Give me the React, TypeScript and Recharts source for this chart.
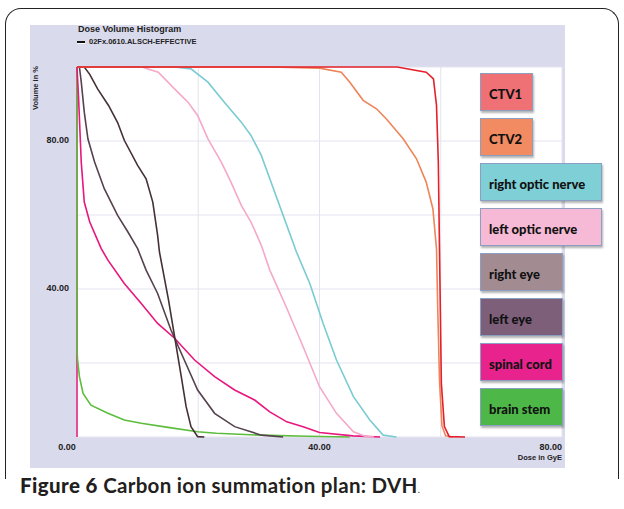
import { LineChart, Line, XAxis, YAxis, CartesianGrid, ReferenceLine } from "recharts";

// DVH curves, [dose in GyE, volume in %]
const ctv1 = [[0, 100], [52.8, 100], [57.6, 98.6], [58.8, 96.8], [59.3, 89.6], [59.6, 74.3], [59.8, 50], [60.1, 14.5], [60.6, 2.8], [61.4, 0.1], [64, 0]];
const ctv2 = [[0, 100], [31.8, 100], [40, 99.7], [43.6, 98.6], [45, 95.9], [47.2, 91], [49.4, 88.7], [51, 86], [53.8, 80.6], [56, 75.2], [57.6, 68.9], [58.7, 61.7], [59.3, 50.9], [59.5, 35], [59.8, 15], [60.2, 3], [60.8, 0.3], [62, 0]];
const rightOpticNerve = [[0, 100], [16.1, 100], [18.8, 99.5], [21.6, 95.9], [24.3, 90.5], [27.1, 85.1], [28.7, 81.5], [30.4, 76.1], [32, 68.9], [34, 59.9], [36.2, 50], [38.4, 41.5], [40.6, 30.7], [42.8, 20.8], [45.6, 10.9], [48.3, 4.6], [50.5, 0.5], [52.7, 0]];
const leftOpticNerve = [[0, 100], [10.7, 100], [13.4, 98.6], [16.1, 94.1], [18.3, 90.5], [19.9, 86.9], [21.6, 80.6], [23.8, 74.3], [25.4, 68.9], [27.1, 62.6], [28.7, 58.1], [30.4, 51.8], [31.8, 45.1], [34.5, 35.2], [37.3, 24.4], [40, 13.6], [42.8, 6.4], [45.6, 1.4], [47.7, 0.1], [49, 0]];
const rightEye = [[0, 100], [1.2, 100], [2.1, 98], [3.4, 94.1], [5.2, 89.6], [6.7, 85], [7.8, 80.2], [10, 73.4], [11.4, 69.8], [12.5, 63.5], [13.3, 54.5], [13.6, 50], [15.1, 37], [16.1, 27.1], [17.2, 16.3], [18, 8.2], [18.8, 2.8], [19.9, 0.1], [21, 0]];
const leftEye = [[0, 100], [0.4, 100], [0.7, 96], [1.2, 87.8], [1.8, 80.6], [2.9, 74.3], [4.5, 67.1], [6.7, 59.9], [8.4, 55.4], [10, 50.9], [11.4, 45.1], [13.3, 38.8], [15.5, 28.9], [17.7, 20.8], [19.9, 12.7], [22.7, 6.4], [26, 2.8], [30.4, 0.5], [34, 0]];
const spinalCord = [[0, 100], [0.25, 92], [0.7, 74.3], [1.2, 63.5], [2.1, 58.1], [4, 50.9], [5.1, 47.8], [7.8, 41.5], [10.6, 36.1], [13.3, 30.7], [16.1, 26.7], [19.4, 20.8], [22.7, 16.3], [26, 12.7], [29.3, 10], [31.8, 6.8], [34.6, 4.1], [37.3, 2.8], [40, 1.2], [45.5, 0.3], [50, 0]];
const brainStem = [[0, 100], [0, 23.5], [0.1, 20.8], [0.4, 16.3], [1, 11.8], [2.3, 8.6], [5.1, 6.4], [7.8, 4.6], [10.6, 3.7], [15, 2.6], [19.9, 1.4], [23, 1], [30.4, 0.5], [38, 0.2], [45, 0]];

const xTicks = [0, 20, 40, 60, 80];
const yTicks = [0, 20, 40, 60, 80, 100];
const xLabelled = [0, 40, 80];
const yLabelled = [40, 80];

// drawn bottom to top
const series = [
  { name: "brain stem", points: brainStem, line: "#5cbd3c", box: "#4db848", width: 83 },
  { name: "spinal cord", points: spinalCord, line: "#e8177f", box: "#e8238e", width: 83 },
  { name: "left eye", points: leftEye, line: "#56424f", box: "#7d5f7a", width: 83 },
  { name: "right eye", points: rightEye, line: "#453134", box: "#a38c91", width: 83 },
  { name: "left optic nerve", points: leftOpticNerve, line: "#f5a8c9", box: "#f6bad6", width: 122 },
  { name: "right optic nerve", points: rightOpticNerve, line: "#7acbd2", box: "#7ecfd6", width: 122 },
  { name: "CTV2", points: ctv2, line: "#ee8458", box: "#f28b61", width: 53 },
  { name: "CTV1", points: ctv1, line: "#e4202a", box: "#ef7075", width: 53 },
];
const legendOrder = ["CTV1", "CTV2", "right optic nerve", "left optic nerve", "right eye", "left eye", "spinal cord", "brain stem"];

const axisFont = { fontFamily: "'Liberation Sans', Arial, sans-serif", fontWeight: 700, fontSize: 9, fill: "#222" };

const XTick = ({ x, y, payload }: any) => {
  if (!xLabelled.includes(payload.value)) return null;
  let dx = 0;
  let anchor = "middle";
  if (payload.value === 0) dx = -10;
  if (payload.value === 80) anchor = "end";
  return (
    <text x={x + dx} y={y + 3} textAnchor={anchor} dominantBaseline="middle" {...axisFont}>
      {payload.value.toFixed(2)}
    </text>
  );
};

const YTick = ({ x, y, payload }: any) => {
  if (!yLabelled.includes(payload.value)) return null;
  return (
    <text x={x} y={y} textAnchor="end" dominantBaseline="middle" {...axisFont}>
      {payload.value.toFixed(2)}
    </text>
  );
};

export default function App() {
  return (
    <div style={{ position: "absolute", left: 0, top: 0, width: 624, height: 509, background: "#fff", overflow: "hidden" }}>
      <div
        style={{
          position: "absolute", left: 5, top: 8, width: 612, height: 470,
          border: "1.5px solid #222", borderBottom: "none", borderRadius: "16px 16px 0 0",
        }}
      />
      <div style={{ position: "absolute", left: 30, top: 25, width: 535, height: 443, background: "#dadaed" }} />
      <div style={{ position: "absolute", left: 78, top: 24, fontFamily: "'Liberation Sans', Arial, sans-serif", fontWeight: 700, fontSize: 9, color: "#222" }}>
        Dose Volume Histogram
      </div>
      <div style={{ position: "absolute", left: 77, top: 41, width: 8, height: 2, background: "#111", boxShadow: "0 1px 0 #fff" }} />
      <div style={{ position: "absolute", left: 89, top: 37, fontFamily: "'Liberation Sans', Arial, sans-serif", fontWeight: 700, fontSize: 7.5, color: "#222" }}>
        02Fx.0610.ALSCH-EFFECTIVE
      </div>
      <div
        style={{
          position: "absolute", left: 35, top: 88, transform: "translate(-50%, -50%) rotate(-90deg)", whiteSpace: "nowrap",
          fontFamily: "'Liberation Sans', Arial, sans-serif", fontWeight: 700, fontSize: 7.5, color: "#222",
        }}
      >
        Volume in %
      </div>
      <div style={{ position: "absolute", right: 62, top: 453, fontFamily: "'Liberation Sans', Arial, sans-serif", fontWeight: 700, fontSize: 7.5, color: "#222" }}>
        Dose in GyE
      </div>
      <div style={{ position: "absolute", left: 0, top: 0 }}>
        <LineChart width={624} height={509} margin={{ top: 67, right: 62, bottom: 42, left: 30 }}>
          <CartesianGrid stroke="#e3e3ef" fill="#fff" />
          <XAxis type="number" dataKey="x" domain={[0, 80]} ticks={xTicks} height={30} axisLine={false} tickLine={false} tick={<XTick />} interval={0} />
          <YAxis type="number" dataKey="y" domain={[0, 100]} ticks={yTicks} width={47} axisLine={false} tickLine={false} tick={<YTick />} interval={0} />
          <ReferenceLine x={0} stroke="#e8177f" strokeWidth={1.5} />
          {series.map((s) => (
            <Line
              key={s.name}
              data={s.points.map(([x, y]) => ({ x, y }))}
              dataKey="y"
              type="linear"
              stroke={s.line}
              strokeWidth={1.6}
              dot={false}
              isAnimationActive={false}
            />
          ))}
        </LineChart>
      </div>
      {legendOrder.map((name, i) => {
        const s = series.find((d) => d.name === name)!;
        return (
          <div
            key={name}
            style={{
              position: "absolute", left: 480, top: 73 + i * 45, width: s.width, height: 38, boxSizing: "border-box",
              background: s.box, border: "1px solid #8a9fc2", boxShadow: "1px 2px 2px rgba(0,0,0,0.3)",
              display: "flex", alignItems: "center", paddingLeft: 8, paddingTop: 3,
              fontFamily: "Lato, 'Open Sans', sans-serif", fontWeight: 900, fontSize: 13, color: "#111",
            }}
          >
            {name}
          </div>
        );
      })}
      <div style={{ position: "absolute", left: 20, top: 473, fontFamily: "Lato, 'Open Sans', sans-serif", fontSize: 20.5, color: "#231f20", whiteSpace: "nowrap" }}>
        <span style={{ fontWeight: 900, letterSpacing: 0.4 }}>Figure 6</span>{" "}
        <span style={{ fontWeight: 700, letterSpacing: 0.3 }}>Carbon ion summation plan: DVH</span>
        <span style={{ fontSize: 9 }}>.</span>
      </div>
    </div>
  );
}
